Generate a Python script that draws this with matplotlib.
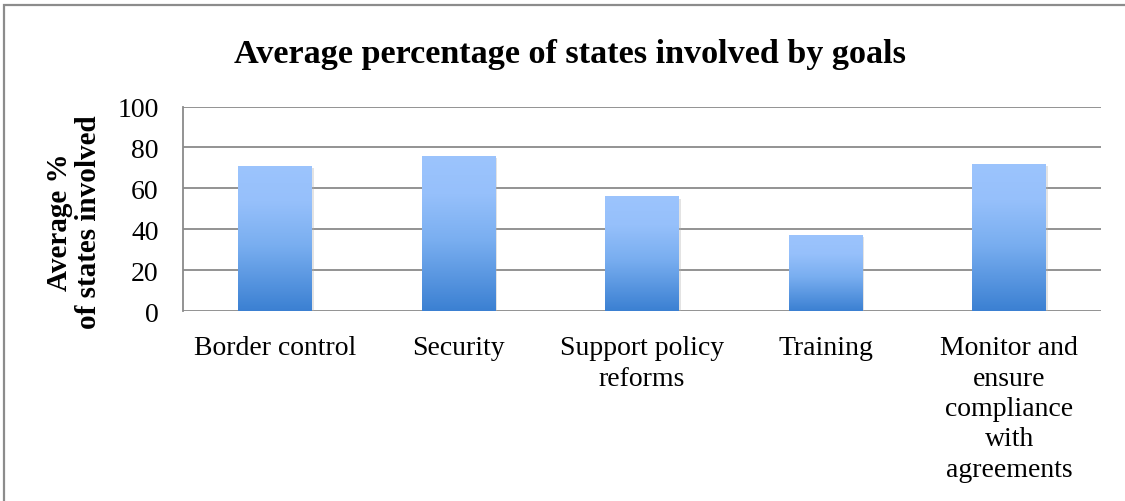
import matplotlib
matplotlib.use("Agg")
import matplotlib.pyplot as plt
import numpy as np
from matplotlib.colors import LinearSegmentedColormap
from matplotlib.patches import Rectangle
import matplotlib.patheffects as pe

categories = ["Border control", "Security", "Support policy\nreforms", "Training",
              "Monitor and\nensure\ncompliance\nwith\nagreements"]
values = [71, 76, 56, 37, 72]
yticks = [0, 20, 40, 60, 80, 100]
title = "Average percentage of states involved by goals"
ylabel = "Average %\nof states involved"

plt.rcParams['font.family'] = ['Liberation Serif', 'DejaVu Serif']

fig = plt.figure(figsize=(11.25, 5.02), dpi=100)
ax = fig.add_axes([183/1125, 1-312/502, (1101-183)/1125, (312-107.5)/502])

# outer chart frame
fig.patches.append(Rectangle((4/1125, -0.1), 1.2, 1 - 6/502 + 0.1,
                             transform=fig.transFigure, fill=False,
                             edgecolor='#8c8c8c', linewidth=1.6))

x = np.arange(len(categories))
bars = ax.bar(x, values, width=0.40, color='none', edgecolor='none', zorder=3)

cmap = LinearSegmentedColormap.from_list('g', [(0, '#3b80d2'), (0.45, '#79aef0'),
                                               (0.75, '#96c0fb'), (1, '#9cc4fd')])
grad = np.linspace(0, 1, 256).reshape(-1, 1)
for b in bars:
    x0, w, h = b.get_x(), b.get_width(), b.get_height()
    sh = Rectangle((x0, 0), w, h, facecolor='white', edgecolor='none', zorder=2)
    sh.set_path_effects([pe.SimplePatchShadow(offset=(1.5, -1.5), shadow_rgbFace='#b0b0b0', alpha=0.35)])
    ax.add_patch(sh)
    im = ax.imshow(grad, cmap=cmap, origin='lower', aspect='auto',
                   extent=[x0, x0 + w, 0, h], zorder=4, interpolation='bicubic')
    im.set_clip_path(b)

ax.set_xlim(-0.5, len(categories) - 0.5)
ax.set_ylim(0, 100)
ax.set_yticks(yticks)
ax.set_xticks(x)
ax.set_xticklabels(categories, fontsize=20, linespacing=1.28, va='top')
ax.tick_params(axis='y', labelsize=20, length=0, pad=17.5)
ax.tick_params(axis='x', length=0, pad=17.5)
ax.yaxis.grid(True, color='#8a8a8a', linewidth=1.3, zorder=0)
ax.set_axisbelow(True)
for s in ['top', 'right', 'bottom']:
    ax.spines[s].set_visible(False)
ax.spines['left'].set_color('#8a8a8a')
ax.spines['left'].set_linewidth(1.3)

fig.text(74/1125, 1 - 222/502, ylabel, fontsize=21, fontweight='bold', rotation=90,
         linespacing=1.1, ha='center', va='center', multialignment='center')
fig.text(570/1125, 1 - 54/502, title, fontsize=24.6, fontweight='bold',
         ha='center', va='center')

fig.savefig('out.png', dpi=100)
